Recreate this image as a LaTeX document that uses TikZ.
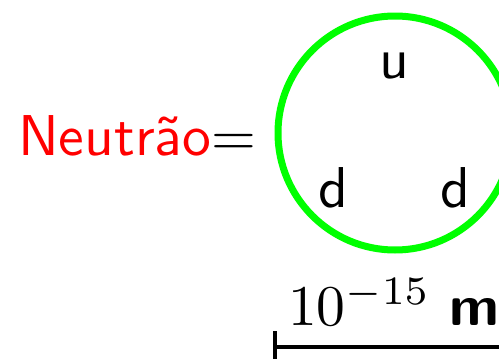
\documentclass[tikz,border=0pt]{standalone}
\usepackage{fontspec}
\begin{document}
\begin{tikzpicture}[x=1pt,y=1pt,
  txt/.style={font=\sffamily\normalsize, scale=5.76, inner sep=0pt, anchor=base},
  bar/.style={line width=3.5pt}]
\useasboundingbox (0,0) rectangle (499,-359);
\node[draw=green, circle, line width=7pt, minimum size=234pt, inner sep=0pt] (neutron) at (395,-133) {};
\node[txt, anchor=base west] (label) at (17,-155) {\textcolor{red}{Neutrão}$=$};
\node[txt] (u) at (394,-78) {u};
\node[txt] (d1) at (333,-207) {d};
\node[txt] (d2) at (455,-207) {d};
\node[txt, anchor=base west] (scale) at (287,-325) {$10^{-15}$ \textbf{m}};
\coordinate (bl) at (275,-347);
\coordinate (br) at (530,-347);
\coordinate (tt) at (275,-331);
\coordinate (tb) at (275,-365);
\draw[bar] (bl) -- (br);
\draw[bar] (tt) -- (tb);
\end{tikzpicture}
\end{document}
